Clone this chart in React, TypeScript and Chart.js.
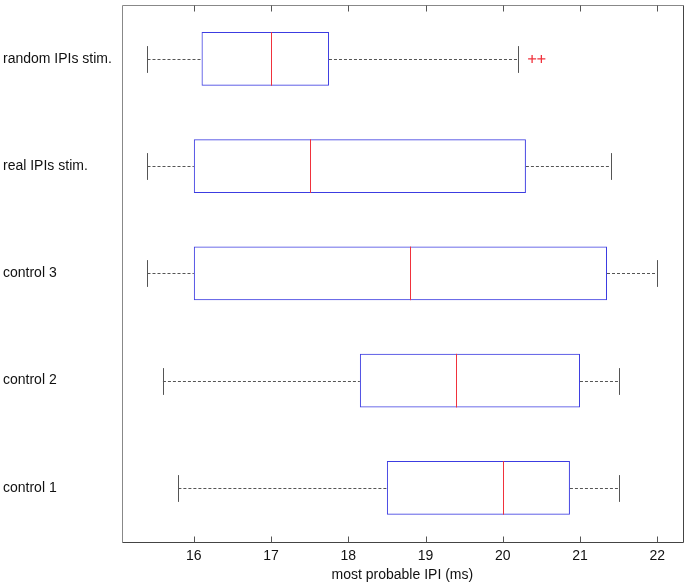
import React, { useEffect, useRef } from "react";
import { Chart, registerables } from "chart.js";

Chart.register(...registerables);

const categories = ["random IPIs stim.", "real IPIs stim.", "control 3", "control 2", "control 1"];
const whiskerLow = [15.4, 15.4, 15.4, 15.6, 15.8];
const q1 = [16.1, 16.0, 16.0, 18.15, 18.5];
const medians = [17.0, 17.5, 18.8, 19.4, 20.0];
const q3 = [17.75, 20.3, 21.35, 21.0, 20.87];
const whiskerHigh = [20.2, 21.4, 22.0, 21.5, 21.5];
const outlierValues = [20.38, 20.5];
const outlierCategory = ["random IPIs stim.", "random IPIs stim."];
const xTickValues = [16, 17, 18, 19, 20, 21, 22];

const FONT = "'Liberation Sans', Arial, sans-serif";

const boxPlugin = {
  id: "boxExtras",
  beforeDatasetsDraw(chart: any) {
    const { ctx, scales } = chart;
    const xs = scales.x;
    const ys = scales.y;
    const step = Math.abs(ys.getPixelForValue(1) - ys.getPixelForValue(0));
    const capH = step * 0.25;
    ctx.save();
    ctx.lineWidth = 1;
    for (let i = 0; i < categories.length; i++) {
      const y = Math.round(ys.getPixelForValue(i)) + 0.5;
      const xl = xs.getPixelForValue(whiskerLow[i]);
      const xq1 = xs.getPixelForValue(q1[i]);
      const xq3 = xs.getPixelForValue(q3[i]);
      const xh = xs.getPixelForValue(whiskerHigh[i]);
      ctx.strokeStyle = "#555";
      ctx.setLineDash([3, 2]);
      ctx.beginPath();
      ctx.moveTo(xl, y);
      ctx.lineTo(xq1, y);
      ctx.moveTo(xq3, y);
      ctx.lineTo(xh, y);
      ctx.stroke();
      ctx.setLineDash([]);
      ctx.strokeStyle = "#555";
      ctx.beginPath();
      const cl = Math.round(xl) + 0.5;
      const ch = Math.round(xh) + 0.5;
      ctx.moveTo(cl, y - capH / 2);
      ctx.lineTo(cl, y + capH / 2);
      ctx.moveTo(ch, y - capH / 2);
      ctx.lineTo(ch, y + capH / 2);
      ctx.stroke();
    }
    ctx.restore();
  },
  afterDatasetsDraw(chart: any) {
    const { ctx, scales } = chart;
    const xs = scales.x;
    const ys = scales.y;
    const step = Math.abs(ys.getPixelForValue(1) - ys.getPixelForValue(0));
    const boxH = step * 0.5;
    ctx.save();
    ctx.lineWidth = 1;
    ctx.strokeStyle = "rgb(240,50,60)";
    for (let i = 0; i < categories.length; i++) {
      const y = ys.getPixelForValue(i);
      const xm = Math.round(xs.getPixelForValue(medians[i])) + 0.5;
      ctx.beginPath();
      ctx.moveTo(xm, y - boxH / 2);
      ctx.lineTo(xm, y + boxH / 2);
      ctx.stroke();
    }
    ctx.restore();
  },
  afterDraw(chart: any) {
    const { ctx, chartArea, scales } = chart;
    const xs = scales.x;
    const l = Math.round(chartArea.left) + 0.5;
    const r = Math.round(chartArea.right) + 0.5;
    const t = Math.round(chartArea.top) + 0.5;
    const b = Math.round(chartArea.bottom) + 0.5;
    ctx.save();
    ctx.lineWidth = 1;
    ctx.strokeStyle = "#888";
    ctx.beginPath();
    ctx.moveTo(l, b);
    ctx.lineTo(l, t);
    ctx.lineTo(r, t);
    ctx.stroke();
    ctx.strokeStyle = "#444";
    ctx.beginPath();
    ctx.moveTo(r, t);
    ctx.lineTo(r, b);
    ctx.lineTo(l, b);
    ctx.stroke();
    ctx.strokeStyle = "#555";
    ctx.beginPath();
    for (const v of xTickValues) {
      const x = Math.round(xs.getPixelForValue(v)) + 0.5;
      ctx.moveTo(x, b);
      ctx.lineTo(x, b - 6);
      ctx.moveTo(x, t);
      ctx.lineTo(x, t + 6);
    }
    ctx.stroke();
    ctx.restore();
  },
};

export default function App() {
  const ref = useRef<HTMLCanvasElement>(null);
  useEffect(() => {
    if (!ref.current) return;
    Chart.defaults.font.family = FONT;
    const chart = new Chart(ref.current, {
      type: "bar",
      data: {
        labels: categories,
        datasets: [
          {
            type: "bar",
            data: categories.map((_, i) => [q1[i], q3[i]]),
            backgroundColor: "rgba(255,255,255,0)",
            borderColor: "rgb(60,60,225)",
            borderWidth: 1,
            borderSkipped: false,
            barPercentage: 0.5,
            categoryPercentage: 1,
          } as any,
          {
            type: "scatter",
            data: outlierValues.map((v, i) => ({ x: v, y: outlierCategory[i] })),
            pointStyle: "cross",
            pointRadius: 4,
            pointBorderColor: "rgb(240,50,60)",
            pointBorderWidth: 1.3,
            borderColor: "rgb(240,50,60)",
          } as any,
        ],
      },
      options: {
        indexAxis: "y",
        animation: false,
        responsive: false,
        events: [],
        layout: { padding: { left: 3, right: 5, top: 4, bottom: 0 } },
        plugins: { legend: { display: false }, tooltip: { enabled: false } },
        scales: {
          x: {
            type: "linear",
            min: 15.07,
            max: 22.33,
            afterBuildTicks: (s: any) => {
              s.ticks = xTickValues.map((v) => ({ value: v }));
            },
            afterFit: (s: any) => {
              s.height = 44.5;
              s.paddingLeft = 0;
              s.paddingRight = 0;
            },
            grid: { display: false, drawTicks: false },
            border: { display: false },
            ticks: { font: { size: 14, family: FONT }, color: "#111", padding: 6, maxRotation: 0 },
            title: {
              display: true,
              text: "most probable IPI (ms)",
              font: { size: 14, family: FONT },
              color: "#111",
              padding: { top: 2, bottom: 2 },
            },
          },
          y: {
            type: "category",
            labels: categories,
            offset: true,
            afterFit: (s: any) => {
              s.width = 119;
              s.paddingTop = 0;
              s.paddingBottom = 0;
            },
            grid: { display: false, drawTicks: false },
            border: { display: false },
            ticks: { font: { size: 14, family: FONT }, color: "#111", crossAlign: "far", padding: 0 },
          },
        },
      } as any,
      plugins: [boxPlugin],
    });
    return () => chart.destroy();
  }, []);
  return (
    <div style={{ position: "absolute", left: 0, top: 0, width: 688, height: 586, background: "#fff" }}>
      <canvas ref={ref} width={688} height={586} />
    </div>
  );
}
